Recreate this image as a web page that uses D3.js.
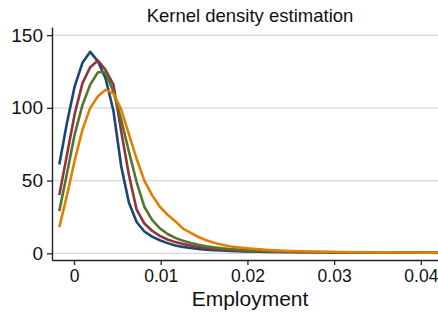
<!DOCTYPE html>
<html><head><meta charset="utf-8">
<script src="https://cdn.jsdelivr.net/npm/d3@7"></script>
<style>
html,body{margin:0;padding:0;background:#fff;}
svg{display:block;font-family:"Liberation Sans",Arial,Helvetica,sans-serif;}
</style></head>
<body>
<svg id="chart" width="438" height="320"></svg>
<script>
// Evaluation grid (50 points, Stata kdensity default)
const xStart = -0.0017;
const xStep = 0.000892;
const nPoints = 50;

const seriesNames = ["s1", "s2", "s3", "s4"];
const seriesColors = ["#1a476f", "#90353b", "#55752f", "#e37e00"];

const density1 = [61, 90, 115, 131, 138.5, 132, 120, 98, 60, 35, 21.5, 15, 11.5, 9, 7, 5.4, 4.4, 3.6, 3.0, 2.5,
  2.2, 1.9, 1.7, 1.5, 1.35, 1.2, 1.1, 1.0, 0.95, 0.9, 0.85, 0.8, 0.75, 0.72, 0.68, 0.65, 0.62, 0.6, 0.57, 0.55,
  0.52, 0.5, 0.48, 0.45, 0.43, 0.41, 0.39, 0.37, 0.35, 0.33];
const density2 = [40, 68, 96, 117, 128, 132.5, 126, 116, 84, 54, 30, 20.5, 15.5, 12, 9.5, 7.7, 6.4, 5.3, 4.4, 3.6,
  3.0, 2.6, 2.2, 1.9, 1.7, 1.5, 1.35, 1.2, 1.1, 1.0, 0.95, 0.9, 0.85, 0.8, 0.76, 0.72, 0.68, 0.65, 0.62, 0.59,
  0.56, 0.53, 0.5, 0.48, 0.46, 0.44, 0.42, 0.4, 0.38, 0.36];
const density3 = [29, 55, 82, 102, 116, 124.5, 124.5, 111, 92, 70, 49, 32, 23, 17.2, 13.3, 10.6, 8.6, 7.1, 5.9, 4.9,
  4.1, 3.5, 3.0, 2.6, 2.2, 1.9, 1.7, 1.5, 1.35, 1.2, 1.1, 1.0, 0.95, 0.9, 0.85, 0.8, 0.76, 0.72, 0.68, 0.65,
  0.62, 0.59, 0.56, 0.53, 0.5, 0.48, 0.46, 0.44, 0.42, 0.4];
const density4 = [18, 40, 64, 85, 100, 108, 112.4, 110, 99, 82, 65, 50, 40, 32, 26.5, 22, 17, 14, 11.2, 9.0,
  7.2, 5.9, 4.9, 4.2, 3.6, 3.1, 2.7, 2.3, 2.0, 1.75, 1.55, 1.4, 1.25, 1.12, 1.02, 0.94, 0.87, 0.82, 0.77, 0.73,
  0.7, 0.67, 0.64, 0.61, 0.58, 0.56, 0.53, 0.5, 0.48, 0.46];

const yTicks = [0, 50, 100, 150];
const xTicks = [0, 0.01, 0.02, 0.03, 0.04];
const xTickLabels = ["0", "0.01", "0.02", "0.03", "0.04"];
const titleText = "Kernel density estimation";
const xTitle = "Employment";

const xGrid = d3.range(nPoints).map(i => xStart + i * xStep);
const allSeries = [density1, density2, density3, density4];

const svg = d3.select("#chart");
const mLeft = 52, mRight = 438, mTop = 27, mBottom = 260;

const x = d3.scaleLinear().domain([-0.00254, 0.04198]).range([mLeft, mRight]);
const y = d3.scaleLinear().domain([-4.6, 155.6]).range([mBottom, mTop]);

// gridlines
svg.append("g").selectAll("line").data(yTicks).join("line")
  .attr("x1", mLeft).attr("x2", mRight)
  .attr("y1", d => y(d)).attr("y2", d => y(d))
  .attr("stroke", "#d6d6d6").attr("stroke-width", 1.3);

// lines
const line = d3.line().x((d, i) => x(xGrid[i])).y(d => y(d));
svg.append("g").selectAll("path").data(allSeries).join("path")
  .attr("d", d => line(d))
  .attr("fill", "none")
  .attr("stroke", (d, i) => seriesColors[i])
  .attr("stroke-width", 2.6)
  .attr("stroke-linejoin", "round");

// y axis
const yAxis = d3.axisLeft(y).tickValues(yTicks).tickSize(5).tickPadding(4).tickSizeOuter(0);
const gy = svg.append("g").attr("transform", `translate(${mLeft},0)`).call(yAxis);
gy.select(".domain").attr("stroke", "#222").attr("stroke-width", 1.4);
gy.selectAll(".tick line").attr("stroke", "#222").attr("stroke-width", 1.3);
gy.selectAll(".tick text").attr("font-size", 19).attr("fill", "#111").attr("font-family", "Liberation Sans, Arial, sans-serif");

// x axis
const xAxis = d3.axisBottom(x).tickValues(xTicks).tickFormat((d, i) => xTickLabels[i]).tickSize(5).tickPadding(5).tickSizeOuter(0);
const gx = svg.append("g").attr("transform", `translate(0,${mBottom})`).call(xAxis);
gx.select(".domain").attr("stroke", "#222").attr("stroke-width", 1.4);
gx.selectAll(".tick line").attr("stroke", "#222").attr("stroke-width", 1.3);
gx.selectAll(".tick text").attr("font-size", 17.5).attr("fill", "#111").attr("font-family", "Liberation Sans, Arial, sans-serif");

// titles
svg.append("text").attr("x", 250).attr("y", 22).attr("text-anchor", "middle")
  .attr("font-size", 18.5).attr("fill", "#111").text(titleText);
svg.append("text").attr("x", 250).attr("y", 306).attr("text-anchor", "middle")
  .attr("font-size", 21).attr("fill", "#111").text(xTitle);
</script>
</body></html>
